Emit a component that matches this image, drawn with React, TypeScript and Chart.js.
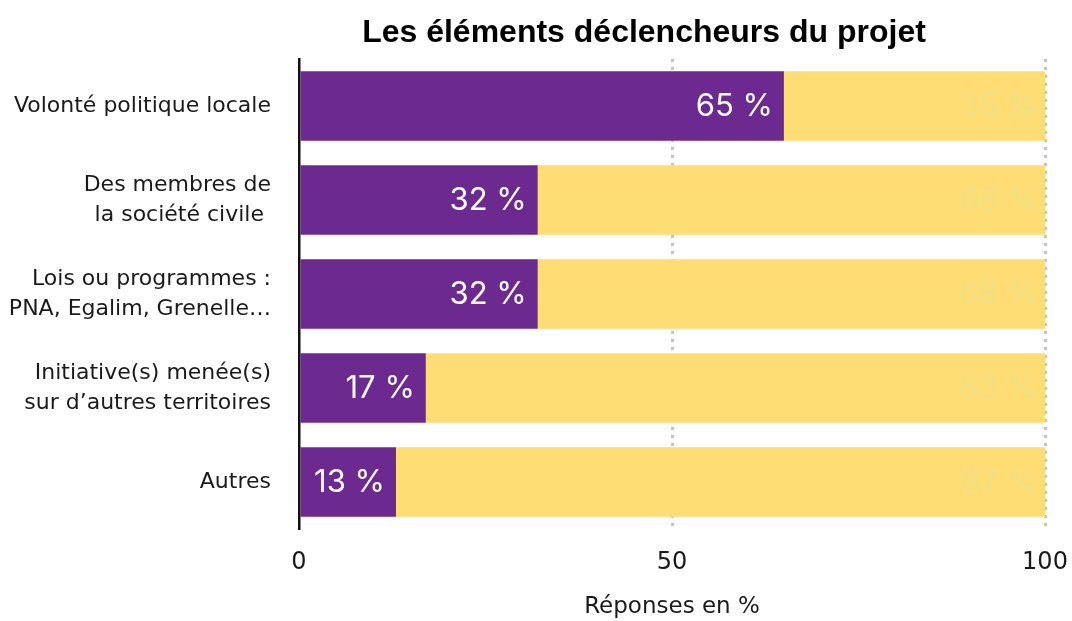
import React, { useEffect, useRef } from "react";
import { Chart, registerables } from "chart.js";

Chart.register(...registerables);

const TITLE = "Les éléments déclencheurs du projet";
const categories: (string | string[])[] = [
  "Volonté politique locale",
  ["Des membres de", "la société civile "],
  ["Lois ou programmes :", "PNA, Egalim, Grenelle…"],
  ["Initiative(s) menée(s)", "sur d’autres territoires"],
  "Autres",
];
const ouiValues = [65, 32, 32, 17, 13];
const nonValues = [35, 68, 68, 83, 87];
const xTicks = [0, 50, 100];
const xTitle = "Réponses en %";

const PURPLE = "#6c298f";
const YELLOW = "#fddd74";
const FAINT = "#f1e083";
const TEXT = "#1a1a1a";
const FONT = "'DejaVu Sans', sans-serif";
const LABEL_FONT = "Inter, 'Liberation Sans', sans-serif";

const labelPlugin = {
  id: "barLabels",
  afterDatasetsDraw(chart: any) {
    const ctx = chart.ctx;
    const area = chart.chartArea;
    ctx.save();
    ctx.font = `400 31px ${LABEL_FONT}`;
    ctx.textBaseline = "middle";
    ctx.textAlign = "right";
    const m0 = chart.getDatasetMeta(0);
    m0.data.forEach((bar: any, i: number) => {
      ctx.fillStyle = "#ffffff";
      ctx.fillText(`${ouiValues[i]} %`, bar.x - 11, bar.y + 1);
    });
    const m1 = chart.getDatasetMeta(1);
    m1.data.forEach((bar: any, i: number) => {
      ctx.fillStyle = FAINT;
      ctx.fillText(`${nonValues[i]} %`, area.right - 8, bar.y + 1);
    });
    ctx.restore();
  },
};

const titlePlugin = {
  id: "customTitle",
  afterDraw(chart: any) {
    const ctx = chart.ctx;
    const area = chart.chartArea;
    ctx.save();
    ctx.font = `bold 32px 'Liberation Sans', Arial, sans-serif`;
    ctx.fillStyle = "#000";
    ctx.textAlign = "center";
    ctx.textBaseline = "alphabetic";
    ctx.fillText(TITLE, (area.left + area.right) / 2 - 28, 42);
    ctx.restore();
  },
};

export default function App() {
  const ref = useRef<HTMLCanvasElement | null>(null);
  useEffect(() => {
    document.body.style.margin = "0";
    const canvas = ref.current;
    if (!canvas) return;
    const chart = new Chart(canvas, {
      type: "bar",
      data: {
        labels: categories,
        datasets: [
          {
            label: "Oui",
            data: ouiValues,
            backgroundColor: PURPLE,
            barPercentage: 0.74,
            categoryPercentage: 1,
          },
          {
            label: "Non",
            data: nonValues,
            backgroundColor: YELLOW,
            barPercentage: 0.74,
            categoryPercentage: 1,
          },
        ],
      },
      options: {
        indexAxis: "y",
        animation: false,
        responsive: false,
        maintainAspectRatio: false,
        layout: { padding: { top: 59, right: 27, bottom: 0, left: 0 } },
        plugins: {
          legend: { display: false },
          tooltip: { enabled: false },
          title: { display: false },
        },
        scales: {
          x: {
            stacked: true,
            min: 0,
            max: 100,
            afterBuildTicks(scale: any) {
              scale.ticks = xTicks.map((v) => ({ value: v }));
            },
            afterFit(scale: any) {
              scale.height = 92;
              scale.paddingLeft = 0;
              scale.paddingRight = 0;
            },
            ticks: {
              font: { family: FONT, size: 24 },
              color: TEXT,
              padding: 19,
            },
            grid: {
              drawTicks: false,
              color: (c: any) => (c.tick && c.tick.value === 0 ? "rgba(0,0,0,0)" : "#c4c4c4"),
              lineWidth: 3,
            },
            border: { display: false, dash: [3, 5] },
            title: {
              display: true,
              text: xTitle,
              font: { family: FONT, size: 23 },
              color: TEXT,
              padding: { top: 19, bottom: 0 },
            },
          },
          y: {
            stacked: true,
            afterFit(scale: any) {
              scale.width = 299;
              scale.paddingTop = 0;
              scale.paddingBottom = 0;
            },
            grid: { display: false, drawTicks: false },
            border: { display: true, color: "#111", width: 2.5 },
            ticks: {
              font: { family: FONT, size: 22, lineHeight: 1.36 },
              color: TEXT,
              padding: 28,
            },
          },
        },
      },
      plugins: [labelPlugin, titlePlugin],
    });
    return () => chart.destroy();
  }, []);
  return (
    <div style={{ width: 1072, height: 621 }}>
      <canvas ref={ref} width={1072} height={621} style={{ display: "block" }} />
    </div>
  );
}
